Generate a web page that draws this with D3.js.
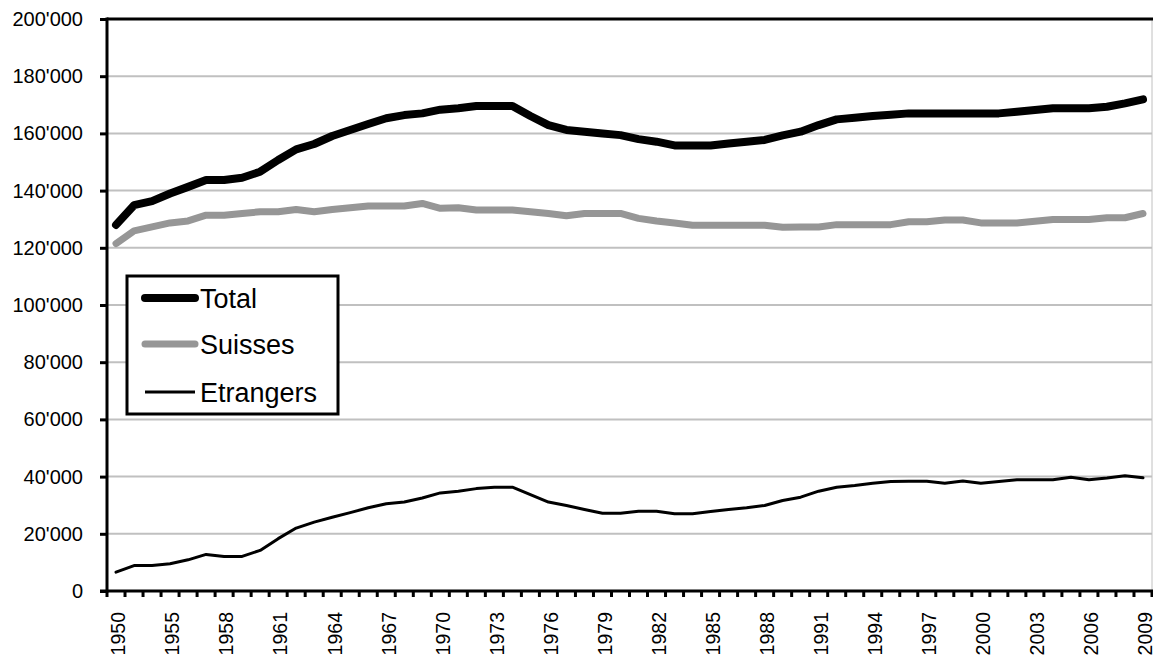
<!DOCTYPE html>
<html>
<head>
<meta charset="utf-8">
<script src="https://cdn.jsdelivr.net/npm/d3@7/dist/d3.min.js"></script>
<style>
  html, body { margin: 0; padding: 0; background: #fff; }
  svg { display: block; }
  text { font-family: "Liberation Sans", Arial, sans-serif; fill: #000; }
</style>
</head>
<body>
<svg id="chart" width="1153" height="657"></svg>
<script>
const categories = ["1950","1953","1954"].concat(d3.range(1955, 2010).map(String));

const total = [
  128000,134900,136300,139000,141300,143700,143700,144500,146600,150700,
  154400,156300,159100,161200,163300,165300,166400,167000,168300,168800,
  169600,169600,169600,166100,162900,161200,160600,160000,159400,158000,
  157100,155800,155800,155800,156500,157100,157700,159300,160600,162900,
  164900,165500,166100,166500,167000,167000,167000,167000,167000,167000,
  167600,168200,168800,168800,168800,169300,170500,171900
];
const suisses = [
  121500,125900,127300,128700,129400,131400,131400,132000,132600,132600,
  133400,132600,133400,134000,134600,134600,134600,135500,133800,134000,
  133200,133200,133200,132600,132000,131200,132000,132000,132000,130300,
  129400,128700,127900,127900,127900,127900,127900,127200,127300,127300,
  128100,128100,128100,128100,129100,129100,129700,129700,128700,128700,
  128700,129300,129900,129900,129900,130500,130500,132000
];
const etrangers = [
  6600,8900,8900,9500,10900,12800,12100,12100,14200,18300,
  22000,24100,25800,27400,29100,30500,31100,32500,34300,34900,
  35800,36300,36300,33700,31100,29900,28500,27200,27200,27900,
  27900,27000,27000,27800,28500,29100,29900,31650,32800,34900,
  36300,36900,37700,38300,38400,38400,37700,38500,37700,38300,
  38900,38900,38900,39800,38900,39500,40300,39600
];
const yTicks = [0,20000,40000,60000,80000,100000,120000,140000,160000,180000,200000];
const seriesNames = ["Total","Suisses","Etrangers"];

const svg = d3.select("#chart");
const L = 107, R = 1152, T = 19, B = 591;

const xBand = d3.scaleBand().domain(categories).range([L, R]).padding(0);
const x = d3.scalePoint().domain(categories).range([L, R]).padding(0.5);
const y = d3.scaleLinear().domain([0, 200000]).range([B, T]);

const fmt = v => v === 0 ? "0" : d3.format(",")(v).replace(/,/g, "'");

// gridlines
svg.append("g")
  .selectAll("line")
  .data(yTicks.filter(v => v > 0 && v < 200000))
  .join("line")
  .attr("x1", L).attr("x2", R)
  .attr("y1", d => y(d)).attr("y2", d => y(d))
  .attr("stroke", "#c0c0c0").attr("stroke-width", 2);

// right border (thin gray) and top border (black)
svg.append("line").attr("x1", R).attr("x2", R).attr("y1", T).attr("y2", B)
  .attr("stroke", "#c0c0c0").attr("stroke-width", 1);
svg.append("line").attr("x1", L).attr("x2", R + 1).attr("y1", y(200000)).attr("y2", y(200000))
  .attr("stroke", "#000").attr("stroke-width", 3);

// Y axis
const yAxis = d3.axisLeft(y).tickValues(yTicks).tickFormat(fmt).tickSize(7).tickPadding(17);
const gy = svg.append("g").attr("transform", `translate(${L},0)`).call(yAxis);
gy.select(".domain").remove();
gy.selectAll(".tick line").attr("stroke", "#000").attr("stroke-width", 3);
gy.selectAll(".tick text").attr("font-size", "20px")
  .style("font-family", "'Liberation Sans', Arial, sans-serif").attr("fill", "#000");

// X axis tick marks at band boundaries
const boundaries = categories.map(c => xBand(c)).concat([R]);
svg.append("g").selectAll("line").data(boundaries).join("line")
  .attr("x1", d => d).attr("x2", d => d)
  .attr("y1", B).attr("y2", B + 6)
  .attr("stroke", "#000").attr("stroke-width", 3);

// X labels
const xAxis = d3.axisBottom(x)
  .tickValues(categories.filter((c, i) => i % 3 === 0))
  .tickSize(0).tickPadding(0);
const gx = svg.append("g").attr("transform", `translate(0,${B})`).call(xAxis);
gx.select(".domain").remove();
gx.selectAll(".tick text")
  .attr("font-size", "19.5px")
  .style("font-family", "'Liberation Sans', Arial, sans-serif")
  .attr("fill", "#000")
  .attr("text-anchor", "end")
  .attr("transform", "translate(2,21) rotate(-90)")
  .attr("x", 0).attr("y", 0).attr("dy", "0.35em");

// axis lines
svg.append("line").attr("x1", L).attr("x2", L).attr("y1", T - 1.5).attr("y2", B + 1.5)
  .attr("stroke", "#000").attr("stroke-width", 3);
svg.append("line").attr("x1", L - 7).attr("x2", R + 1).attr("y1", B).attr("y2", B)
  .attr("stroke", "#000").attr("stroke-width", 3);

// lines
const styles = {
  Total: { color: "#000", width: 8 },
  Suisses: { color: "#969696", width: 7 },
  Etrangers: { color: "#000", width: 3 }
};
const dataMap = { Total: total, Suisses: suisses, Etrangers: etrangers };
const lineGen = d3.line().x((d, i) => x(categories[i])).y(d => y(d));
["Etrangers","Suisses","Total"].forEach(name => {
  svg.append("path")
    .datum(dataMap[name])
    .attr("d", lineGen)
    .attr("fill", "none")
    .attr("stroke", styles[name].color)
    .attr("stroke-width", styles[name].width)
    .attr("stroke-linejoin", "round")
    .attr("stroke-linecap", "round");
});

// legend
const lg = svg.append("g");
lg.append("rect").attr("x", 127).attr("y", 276).attr("width", 211).attr("height", 138)
  .attr("fill", "#fff").attr("stroke", "#000").attr("stroke-width", 3);
const legY = [298, 344, 392];
seriesNames.forEach((name, i) => {
  const s = styles[name];
  const isThin = name === "Etrangers";
  lg.append("line")
    .attr("x1", 145).attr("x2", 195)
    .attr("y1", legY[i]).attr("y2", legY[i])
    .attr("stroke", s.color).attr("stroke-width", s.width)
    .attr("stroke-linecap", isThin ? "butt" : "round");
  lg.append("text").attr("x", 200).attr("y", legY[i]).attr("dy", "0.36em")
    .attr("font-size", "27px").text(name);
});
</script>
</body>
</html>
